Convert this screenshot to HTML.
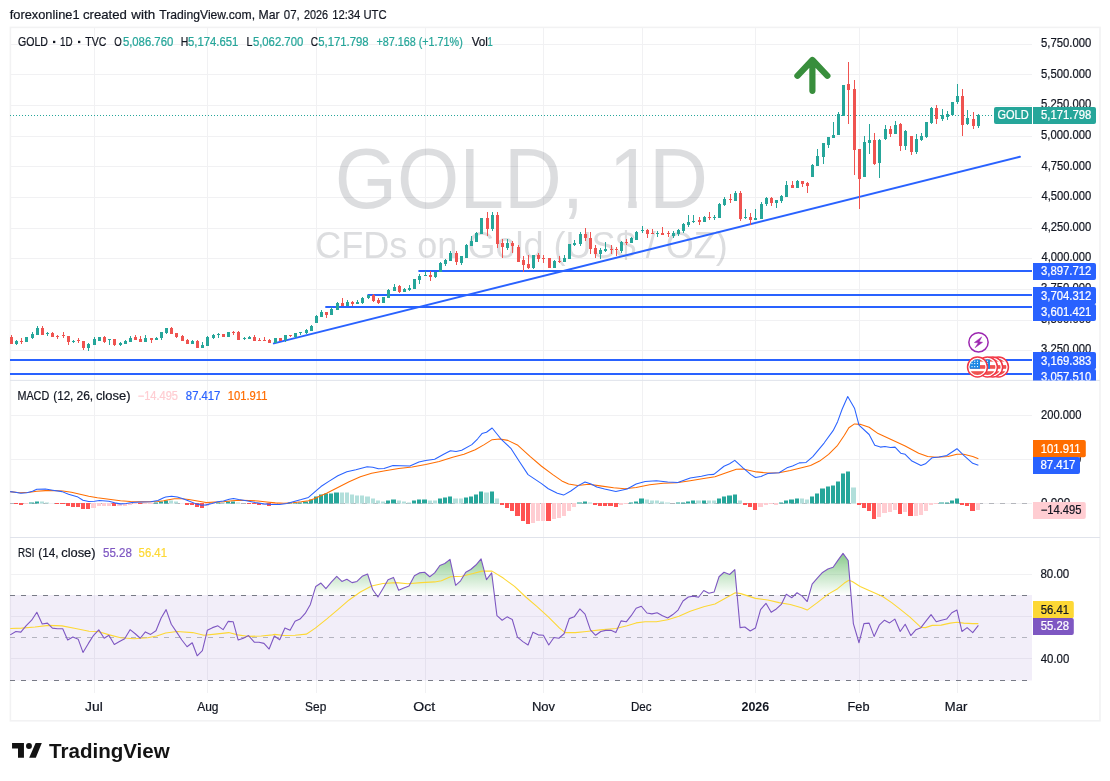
<!DOCTYPE html>
<html><head><meta charset="utf-8"><title>GOLD 1D</title>
<style>html,body{margin:0;padding:0;background:#fff}body{width:1110px;height:781px;overflow:hidden;font-family:"Liberation Sans",sans-serif}</style></head>
<body>
<svg width="1110" height="781" viewBox="0 0 1110 781" font-family='"Liberation Sans", sans-serif' style="display:block;will-change:transform">
<rect x="0" y="0" width="1110" height="781" fill="#ffffff" />
<filter id="idf" x="0" y="0" width="1110" height="781" filterUnits="userSpaceOnUse"><feOffset dx="0" dy="0"/></filter><g filter="url(#idf)">
<text x="9.75" y="19.2" font-size="13" fill="#131722" stroke="#131722" stroke-width="0.22" textLength="69.77" lengthAdjust="spacingAndGlyphs" >forexonline1</text>
<text x="82.91" y="19.2" font-size="13" fill="#131722" stroke="#131722" stroke-width="0.22" textLength="43.98" lengthAdjust="spacingAndGlyphs" >created</text>
<text x="131.36" y="19.2" font-size="13" fill="#131722" stroke="#131722" stroke-width="0.22" textLength="23.8" lengthAdjust="spacingAndGlyphs" >with</text>
<text x="159.31" y="19.2" font-size="13" fill="#131722" stroke="#131722" stroke-width="0.22" textLength="95.8" lengthAdjust="spacingAndGlyphs" >TradingView.com,</text>
<text x="258.48" y="19.2" font-size="13" fill="#131722" stroke="#131722" stroke-width="0.22" textLength="21.08" lengthAdjust="spacingAndGlyphs" >Mar</text>
<text x="283.82" y="19.2" font-size="13" fill="#131722" stroke="#131722" stroke-width="0.22" textLength="15.9" lengthAdjust="spacingAndGlyphs" >07,</text>
<text x="303.94" y="19.2" font-size="13" fill="#131722" stroke="#131722" stroke-width="0.22" textLength="24.17" lengthAdjust="spacingAndGlyphs" >2026</text>
<text x="332.13" y="19.2" font-size="13" fill="#131722" stroke="#131722" stroke-width="0.22" textLength="28.26" lengthAdjust="spacingAndGlyphs" >12:34</text>
<text x="363.43" y="19.2" font-size="13" fill="#131722" stroke="#131722" stroke-width="0.22" textLength="23.13" lengthAdjust="spacingAndGlyphs" >UTC</text>
<line x1="94.5" y1="27.5" x2="94.5" y2="693" stroke="#f1f1f3" stroke-width="1" />
<line x1="207.5" y1="27.5" x2="207.5" y2="693" stroke="#f1f1f3" stroke-width="1" />
<line x1="316.5" y1="27.5" x2="316.5" y2="693" stroke="#f1f1f3" stroke-width="1" />
<line x1="425.5" y1="27.5" x2="425.5" y2="693" stroke="#f1f1f3" stroke-width="1" />
<line x1="543.5" y1="27.5" x2="543.5" y2="693" stroke="#f1f1f3" stroke-width="1" />
<line x1="642.5" y1="27.5" x2="642.5" y2="693" stroke="#f1f1f3" stroke-width="1" />
<line x1="755.5" y1="27.5" x2="755.5" y2="693" stroke="#f1f1f3" stroke-width="1" />
<line x1="859.5" y1="27.5" x2="859.5" y2="693" stroke="#f1f1f3" stroke-width="1" />
<line x1="957.5" y1="27.5" x2="957.5" y2="693" stroke="#f1f1f3" stroke-width="1" />
<line x1="10" y1="44.5" x2="1032" y2="44.5" stroke="#f1f1f3" stroke-width="1" />
<line x1="10" y1="74.5" x2="1032" y2="74.5" stroke="#f1f1f3" stroke-width="1" />
<line x1="10" y1="105.5" x2="1032" y2="105.5" stroke="#f1f1f3" stroke-width="1" />
<line x1="10" y1="136.5" x2="1032" y2="136.5" stroke="#f1f1f3" stroke-width="1" />
<line x1="10" y1="166.5" x2="1032" y2="166.5" stroke="#f1f1f3" stroke-width="1" />
<line x1="10" y1="197.5" x2="1032" y2="197.5" stroke="#f1f1f3" stroke-width="1" />
<line x1="10" y1="228.5" x2="1032" y2="228.5" stroke="#f1f1f3" stroke-width="1" />
<line x1="10" y1="258.5" x2="1032" y2="258.5" stroke="#f1f1f3" stroke-width="1" />
<line x1="10" y1="289.5" x2="1032" y2="289.5" stroke="#f1f1f3" stroke-width="1" />
<line x1="10" y1="320.5" x2="1032" y2="320.5" stroke="#f1f1f3" stroke-width="1" />
<line x1="10" y1="350.5" x2="1032" y2="350.5" stroke="#f1f1f3" stroke-width="1" />
<line x1="10" y1="415.5" x2="1032" y2="415.5" stroke="#f1f1f3" stroke-width="1" />
<line x1="10" y1="459.5" x2="1032" y2="459.5" stroke="#f1f1f3" stroke-width="1" />
<line x1="10" y1="503.5" x2="1032" y2="503.5" stroke="#f1f1f3" stroke-width="1" />
<line x1="10" y1="574.5" x2="1032" y2="574.5" stroke="#f1f1f3" stroke-width="1" />
<line x1="10" y1="616.5" x2="1032" y2="616.5" stroke="#f1f1f3" stroke-width="1" />
<line x1="10" y1="658.5" x2="1032" y2="658.5" stroke="#f1f1f3" stroke-width="1" />
<rect x="10.4" y="27.4" width="1089.6" height="693.4" fill="none" stroke="#f2f2f3" stroke-width="1.6"/>
<g fill="#50535e" fill-opacity="0.2">
<text x="334.85" y="208" font-size="84.6" fill="#50535e" textLength="249.16" lengthAdjust="spacingAndGlyphs" fill-opacity="0.2">GOLD,</text>
<clipPath id="c1"><path d="M608 140 H636.7 V212 H628.2 V199 H608 Z"/></clipPath><g clip-path="url(#c1)">
<text x="608.8" y="208" font-size="84.6" fill="#50535e" textLength="44.5" lengthAdjust="spacingAndGlyphs" fill-opacity="0.2">1</text>
</g>
<text x="648.94" y="208" font-size="84.6" fill="#50535e" textLength="59.02" lengthAdjust="spacingAndGlyphs" fill-opacity="0.2">D</text>
<text x="315.14" y="257.7" font-size="37" fill="#50535e" textLength="412.68" lengthAdjust="spacingAndGlyphs" fill-opacity="0.2">CFDs on Gold (US$ / OZ)</text>
</g>
<defs><linearGradient id="rg" gradientUnits="userSpaceOnUse" x1="0" y1="531.7" x2="0" y2="595.3"><stop offset="0" stop-color="#4caf50" stop-opacity="1"/><stop offset="1" stop-color="#4caf50" stop-opacity="0"/></linearGradient>
<clipPath id="c70"><rect x="10" y="538" width="1022" height="57.299999999999955"/></clipPath></defs>
<rect x="10" y="595" width="1022" height="85.5" fill="#7e57c2" fill-opacity="0.1"/>
<polygon points="10.25,596 10.25,634.85 15.88,631.47 20.84,632.14 26.02,625.84 31.65,620.21 36.83,612.32 42.23,624.04 47.41,623.14 52.37,628.09 57.55,628.77 62.73,628.77 67.68,640.03 72.86,637.1 78.27,639.35 83,652.41 88.41,643.41 93.59,635.3 98.77,629.89 104.17,638.23 108.9,635.3 114.31,644.53 119.49,641.6 124.67,638.68 130.07,629.67 135.25,633.72 140.21,638.23 145.39,631.92 150.57,634.4 155.97,630.79 161.15,617.95 166.11,609.62 171.29,624.26 176.47,631.92 181.87,640.03 187.05,646.78 192.23,642.73 197.19,655.79 202.37,650.61 207.32,630.34 212.5,627.64 217.91,625.84 223.09,629.67 228.27,621.33 233.23,621.78 238.18,640.03 243.36,638.23 248.54,635.52 254.5,642.28 259.01,642.28 263.96,643.41 269.14,649.04 274.32,635.97 279.73,639.8 284.91,628.09 290.09,630.34 295.05,621.33 300,619.08 305.18,613.45 310.36,604.44 315.77,586.42 320.95,583.05 325.9,588.68 331.53,581.92 336.71,576.29 341.89,581.47 346.85,579.22 352.03,582.59 356.98,581.47 362.16,576.29 367.57,574.04 372.75,589.8 377.93,597.01 382.88,588.68 388.06,579.67 393.47,577.41 398.65,590.25 403.83,588 409.01,585.97 414.41,575.84 419.37,572.91 424.55,572.23 429.73,576.74 434.68,572.91 439.86,565.48 444.82,563.45 450,559.4 455.63,585.3 460.59,580.79 465.77,572.23 470.72,569.53 475.9,565.03 481.08,558.95 486.49,579.67 491.67,572.91 496.95,615.7 502.14,620.21 507.09,616.83 512.27,619.53 517.45,637.1 522.86,641.6 528.04,644.98 532.99,632.14 538.17,634.85 543.35,635.3 548.76,644.98 553.94,637.55 558.89,638.23 564.07,633.72 569.25,618.63 574.21,616.83 579.84,608.95 585.02,614.13 590.42,629.89 595.6,635.3 600.78,631.47 605.74,630.34 610.92,630.34 615.87,632.59 621.05,620.88 626.23,621.78 631.19,615.7 636.14,608.27 641.32,606.24 646.95,613 651.91,613.9 657.09,612.77 662.5,615.7 667.68,617.95 672.86,614.58 678.04,610.07 682.99,601.06 688.4,597.01 693.58,596.11 698.53,597.23 703.71,590.48 708.89,593.18 714.07,592.05 719.03,576.74 723.98,572.23 729.61,574.49 734.79,569.53 740.08,627.64 744.81,626.96 750.22,631.02 755.4,628.09 760.58,609.62 765.98,603.32 771.16,612.32 776.34,608.95 781.3,604.44 786.25,594.31 791.88,597.68 797.06,592.73 802.24,596.11 807.2,601.51 812.15,584.17 817.33,578.09 822.51,572.46 827.92,569.08 833.1,567.28 838.05,560.07 843.01,553.32 848.19,560.52 853.37,623.59 859,642.73 863.95,623.59 869.14,623.14 874.09,636.42 879.27,625.16 884.45,620.21 889.63,622.91 894.81,619.08 900.22,631.47 905.17,624.26 910.8,635.52 915.98,629.67 920.94,627.64 926.12,620.88 931.07,614.58 936.25,621.78 941.43,620.21 946.61,619.08 951.79,612.77 956.97,610.07 961.93,631.47 967.11,627.64 972.74,632.59 978.37,625.39 978.37,596" fill="url(#rg)" clip-path="url(#c70)"/>
<line x1="10" y1="595.5" x2="1032" y2="595.5" stroke="#787b86" stroke-width="1" stroke-dasharray="5 6"/>
<line x1="10" y1="637.5" x2="1032" y2="637.5" stroke="#787b86" stroke-width="1" stroke-dasharray="5 6" stroke-opacity="0.5"/>
<line x1="10" y1="680.5" x2="1032" y2="680.5" stroke="#787b86" stroke-width="1" stroke-dasharray="5 6"/>
<polyline points="10.25,628.54 21.51,628.09 35.03,626.96 48.54,625.39 62.05,625.84 75.57,628.54 89.08,631.24 98.09,631.47 109.35,634.85 120.61,637.77 134.13,638.68 147.64,637.77 156.65,635.97 165.66,633.05 176.92,631.47 192.68,632.59 203.95,635.3 215.21,634.17 228.72,632.59 237.73,634.85 248.99,636.42 261.26,635.97 272.52,634.85 274.77,634.4 283.78,635.52 295.05,635.3 306.31,634.17 315.32,628.09 326.58,619.08 337.84,609.62 349.1,599.94 360.36,592.05 371.62,585.97 382.88,583.5 396.4,582.59 407.66,583.72 421.17,582.59 434.68,581.92 441.44,580.79 450.45,576.74 461.71,576.29 472.97,573.59 481.98,571.11 490.99,571.11 492,571.11 503.26,578.09 514.52,586.42 525.78,597.01 537.05,606.69 548.31,616.83 559.57,628.09 565.2,632.59 575.33,632.59 586.59,631.47 600.11,629.89 615.87,628.54 627.14,625.84 636.14,622.91 645.15,621.78 656.41,621.78 667.68,619.76 678.94,616.15 690.2,611.2 703.71,606.69 714.97,603.99 726.23,597.68 735.24,592.73 740.76,593.63 755.4,598.36 767.78,599.94 779.05,602.64 790.31,604.44 801.57,607.82 807.2,610.07 817.33,602.64 828.59,593.86 837.6,588.68 844.36,583.05 848.86,580.34 852.24,581.47 860.13,586.42 871.39,591.38 882.65,596.56 891.66,602.64 900.67,609.62 909.68,616.83 916.43,623.14 920.94,627.41 925.44,627.64 932.2,625.39 941.21,625.16 950.22,623.14 956.97,622.23 963.73,623.14 972.74,623.59 978.37,623.59" fill="none" stroke="#fdd835" stroke-width="1.1" stroke-linejoin="round" />
<polyline points="10.25,634.85 15.88,631.47 20.84,632.14 26.02,625.84 31.65,620.21 36.83,612.32 42.23,624.04 47.41,623.14 52.37,628.09 57.55,628.77 62.73,628.77 67.68,640.03 72.86,637.1 78.27,639.35 83,652.41 88.41,643.41 93.59,635.3 98.77,629.89 104.17,638.23 108.9,635.3 114.31,644.53 119.49,641.6 124.67,638.68 130.07,629.67 135.25,633.72 140.21,638.23 145.39,631.92 150.57,634.4 155.97,630.79 161.15,617.95 166.11,609.62 171.29,624.26 176.47,631.92 181.87,640.03 187.05,646.78 192.23,642.73 197.19,655.79 202.37,650.61 207.32,630.34 212.5,627.64 217.91,625.84 223.09,629.67 228.27,621.33 233.23,621.78 238.18,640.03 243.36,638.23 248.54,635.52 254.5,642.28 259.01,642.28 263.96,643.41 269.14,649.04 274.32,635.97 279.73,639.8 284.91,628.09 290.09,630.34 295.05,621.33 300,619.08 305.18,613.45 310.36,604.44 315.77,586.42 320.95,583.05 325.9,588.68 331.53,581.92 336.71,576.29 341.89,581.47 346.85,579.22 352.03,582.59 356.98,581.47 362.16,576.29 367.57,574.04 372.75,589.8 377.93,597.01 382.88,588.68 388.06,579.67 393.47,577.41 398.65,590.25 403.83,588 409.01,585.97 414.41,575.84 419.37,572.91 424.55,572.23 429.73,576.74 434.68,572.91 439.86,565.48 444.82,563.45 450,559.4 455.63,585.3 460.59,580.79 465.77,572.23 470.72,569.53 475.9,565.03 481.08,558.95 486.49,579.67 491.67,572.91 496.95,615.7 502.14,620.21 507.09,616.83 512.27,619.53 517.45,637.1 522.86,641.6 528.04,644.98 532.99,632.14 538.17,634.85 543.35,635.3 548.76,644.98 553.94,637.55 558.89,638.23 564.07,633.72 569.25,618.63 574.21,616.83 579.84,608.95 585.02,614.13 590.42,629.89 595.6,635.3 600.78,631.47 605.74,630.34 610.92,630.34 615.87,632.59 621.05,620.88 626.23,621.78 631.19,615.7 636.14,608.27 641.32,606.24 646.95,613 651.91,613.9 657.09,612.77 662.5,615.7 667.68,617.95 672.86,614.58 678.04,610.07 682.99,601.06 688.4,597.01 693.58,596.11 698.53,597.23 703.71,590.48 708.89,593.18 714.07,592.05 719.03,576.74 723.98,572.23 729.61,574.49 734.79,569.53 740.08,627.64 744.81,626.96 750.22,631.02 755.4,628.09 760.58,609.62 765.98,603.32 771.16,612.32 776.34,608.95 781.3,604.44 786.25,594.31 791.88,597.68 797.06,592.73 802.24,596.11 807.2,601.51 812.15,584.17 817.33,578.09 822.51,572.46 827.92,569.08 833.1,567.28 838.05,560.07 843.01,553.32 848.19,560.52 853.37,623.59 859,642.73 863.95,623.59 869.14,623.14 874.09,636.42 879.27,625.16 884.45,620.21 889.63,622.91 894.81,619.08 900.22,631.47 905.17,624.26 910.8,635.52 915.98,629.67 920.94,627.64 926.12,620.88 931.07,614.58 936.25,621.78 941.43,620.21 946.61,619.08 951.79,612.77 956.97,610.07 961.93,631.47 967.11,627.64 972.74,632.59 978.37,625.39" fill="none" stroke="#7e57c2" stroke-width="1.1" stroke-linejoin="round" />
<line x1="10" y1="503.5" x2="1032" y2="503.5" stroke="#787b86" stroke-width="1" stroke-dasharray="5 6" stroke-opacity="0.5"/>
<rect x="14" y="503" width="4" height="1" fill="#ff5252" />
<rect x="19" y="503" width="4" height="2" fill="#ff5252" />
<rect x="24" y="503" width="4" height="1" fill="#ffcdd2" />
<rect x="29" y="502.5" width="5" height="1" fill="#26a69a" />
<rect x="35" y="501.5" width="4" height="2" fill="#26a69a" />
<rect x="40" y="501.5" width="4" height="2" fill="#b2dfdb" />
<rect x="45" y="502.5" width="4" height="1" fill="#b2dfdb" />
<rect x="55" y="503" width="4" height="1" fill="#ff5252" />
<rect x="60" y="503" width="5" height="1" fill="#ff5252" />
<rect x="66" y="503" width="4" height="3" fill="#ff5252" />
<rect x="71" y="503" width="4" height="4" fill="#ff5252" />
<rect x="76" y="503" width="4" height="4" fill="#ff5252" />
<rect x="81" y="503" width="4" height="6" fill="#ff5252" />
<rect x="86" y="503" width="4" height="6" fill="#ff5252" />
<rect x="91" y="503" width="5" height="5" fill="#ffcdd2" />
<rect x="97" y="503" width="4" height="3" fill="#ffcdd2" />
<rect x="102" y="503" width="4" height="3" fill="#ffcdd2" />
<rect x="107" y="503" width="4" height="3" fill="#ffcdd2" />
<rect x="112" y="503" width="4" height="3" fill="#ff5252" />
<rect x="117" y="503" width="5" height="3" fill="#ffcdd2" />
<rect x="123" y="503" width="4" height="3" fill="#ffcdd2" />
<rect x="128" y="503" width="4" height="2" fill="#ffcdd2" />
<rect x="133" y="503" width="4" height="1" fill="#ffcdd2" />
<rect x="138" y="503" width="4" height="1" fill="#ff5252" />
<rect x="143" y="503" width="4" height="1" fill="#ffcdd2" />
<rect x="148" y="503" width="5" height="1" fill="#ffcdd2" />
<rect x="154" y="502.5" width="4" height="1" fill="#26a69a" />
<rect x="159" y="501.5" width="4" height="2" fill="#26a69a" />
<rect x="164" y="500.5" width="4" height="3" fill="#26a69a" />
<rect x="169" y="500.5" width="4" height="3" fill="#b2dfdb" />
<rect x="174" y="501.5" width="4" height="2" fill="#b2dfdb" />
<rect x="185" y="503" width="4" height="2" fill="#ff5252" />
<rect x="190" y="503" width="4" height="2" fill="#ff5252" />
<rect x="195" y="503" width="4" height="4" fill="#ff5252" />
<rect x="200" y="503" width="4" height="5" fill="#ff5252" />
<rect x="205" y="503" width="4" height="3" fill="#ffcdd2" />
<rect x="210" y="503" width="5" height="1" fill="#ffcdd2" />
<rect x="216" y="502.5" width="4" height="1" fill="#26a69a" />
<rect x="221" y="502.5" width="4" height="1" fill="#b2dfdb" />
<rect x="226" y="501.5" width="4" height="2" fill="#26a69a" />
<rect x="231" y="501.5" width="4" height="2" fill="#26a69a" />
<rect x="236" y="502.5" width="4" height="1" fill="#b2dfdb" />
<rect x="247" y="503" width="4" height="1" fill="#ff5252" />
<rect x="252" y="503" width="4" height="1" fill="#ff5252" />
<rect x="257" y="503" width="4" height="2" fill="#ff5252" />
<rect x="262" y="503" width="4" height="2" fill="#ffcdd2" />
<rect x="267" y="503" width="4" height="3" fill="#ff5252" />
<rect x="272" y="503" width="5" height="1" fill="#ffcdd2" />
<rect x="278" y="503" width="4" height="1" fill="#ffcdd2" />
<rect x="283" y="503" width="4" height="1" fill="#ffcdd2" />
<rect x="288" y="502.5" width="4" height="1" fill="#26a69a" />
<rect x="293" y="502.5" width="4" height="1" fill="#26a69a" />
<rect x="298" y="502.5" width="4" height="1" fill="#26a69a" />
<rect x="303" y="501.5" width="5" height="2" fill="#26a69a" />
<rect x="309" y="499.5" width="4" height="4" fill="#26a69a" />
<rect x="314" y="496.5" width="4" height="7" fill="#26a69a" />
<rect x="319" y="494.5" width="4" height="9" fill="#26a69a" />
<rect x="324" y="493.5" width="4" height="10" fill="#26a69a" />
<rect x="329" y="493.5" width="4" height="10" fill="#26a69a" />
<rect x="334" y="492.5" width="5" height="11" fill="#26a69a" />
<rect x="340" y="492.5" width="4" height="11" fill="#b2dfdb" />
<rect x="345" y="492.5" width="4" height="11" fill="#b2dfdb" />
<rect x="350" y="494.5" width="4" height="9" fill="#b2dfdb" />
<rect x="355" y="495.5" width="4" height="8" fill="#b2dfdb" />
<rect x="360" y="495.5" width="4" height="8" fill="#b2dfdb" />
<rect x="365" y="496.5" width="5" height="7" fill="#b2dfdb" />
<rect x="371" y="498.5" width="4" height="5" fill="#b2dfdb" />
<rect x="376" y="500.5" width="4" height="3" fill="#b2dfdb" />
<rect x="381" y="501.5" width="4" height="2" fill="#b2dfdb" />
<rect x="386" y="500.5" width="4" height="3" fill="#26a69a" />
<rect x="391" y="499.5" width="5" height="4" fill="#26a69a" />
<rect x="397" y="500.5" width="4" height="3" fill="#b2dfdb" />
<rect x="402" y="501.5" width="4" height="2" fill="#b2dfdb" />
<rect x="407" y="502.5" width="4" height="1" fill="#b2dfdb" />
<rect x="412" y="500.5" width="4" height="3" fill="#26a69a" />
<rect x="417" y="499.5" width="4" height="4" fill="#26a69a" />
<rect x="422" y="499.5" width="5" height="4" fill="#26a69a" />
<rect x="428" y="500.5" width="4" height="3" fill="#b2dfdb" />
<rect x="433" y="500.5" width="4" height="3" fill="#b2dfdb" />
<rect x="438" y="498.5" width="4" height="5" fill="#26a69a" />
<rect x="443" y="497.5" width="4" height="6" fill="#26a69a" />
<rect x="448" y="496.5" width="4" height="7" fill="#26a69a" />
<rect x="453" y="498.5" width="5" height="5" fill="#b2dfdb" />
<rect x="459" y="498.5" width="4" height="5" fill="#b2dfdb" />
<rect x="464" y="497.5" width="4" height="6" fill="#26a69a" />
<rect x="469" y="496.5" width="4" height="7" fill="#26a69a" />
<rect x="474" y="494.5" width="4" height="9" fill="#26a69a" />
<rect x="479" y="491.5" width="4" height="12" fill="#26a69a" />
<rect x="484" y="492.5" width="5" height="11" fill="#b2dfdb" />
<rect x="490" y="491.5" width="4" height="12" fill="#26a69a" />
<rect x="495" y="498.5" width="4" height="5" fill="#b2dfdb" />
<rect x="500" y="503" width="4" height="2" fill="#ff5252" />
<rect x="505" y="503" width="4" height="5" fill="#ff5252" />
<rect x="510" y="503" width="4" height="8" fill="#ff5252" />
<rect x="515" y="503" width="5" height="13" fill="#ff5252" />
<rect x="521" y="503" width="4" height="18" fill="#ff5252" />
<rect x="526" y="503" width="4" height="21" fill="#ff5252" />
<rect x="531" y="503" width="4" height="20" fill="#ffcdd2" />
<rect x="536" y="503" width="4" height="18" fill="#ffcdd2" />
<rect x="541" y="503" width="4" height="18" fill="#ffcdd2" />
<rect x="546" y="503" width="5" height="18" fill="#ff5252" />
<rect x="552" y="503" width="4" height="16" fill="#ffcdd2" />
<rect x="557" y="503" width="4" height="15" fill="#ffcdd2" />
<rect x="562" y="503" width="4" height="13" fill="#ffcdd2" />
<rect x="567" y="503" width="4" height="8" fill="#ffcdd2" />
<rect x="572" y="503" width="4" height="4" fill="#ffcdd2" />
<rect x="577" y="502.5" width="5" height="1" fill="#26a69a" />
<rect x="583" y="501.5" width="4" height="2" fill="#26a69a" />
<rect x="588" y="502.5" width="4" height="1" fill="#b2dfdb" />
<rect x="593" y="503" width="4" height="2" fill="#ff5252" />
<rect x="598" y="503" width="4" height="3" fill="#ff5252" />
<rect x="603" y="503" width="4" height="3" fill="#ff5252" />
<rect x="608" y="503" width="5" height="3" fill="#ff5252" />
<rect x="614" y="503" width="4" height="4" fill="#ff5252" />
<rect x="619" y="503" width="4" height="2" fill="#ffcdd2" />
<rect x="624" y="503" width="4" height="1" fill="#ffcdd2" />
<rect x="629" y="502.5" width="4" height="1" fill="#26a69a" />
<rect x="634" y="501.5" width="4" height="2" fill="#26a69a" />
<rect x="639" y="498.5" width="5" height="5" fill="#26a69a" />
<rect x="645" y="499.5" width="4" height="4" fill="#b2dfdb" />
<rect x="650" y="500.5" width="4" height="3" fill="#b2dfdb" />
<rect x="655" y="500.5" width="4" height="3" fill="#b2dfdb" />
<rect x="660" y="501.5" width="4" height="2" fill="#b2dfdb" />
<rect x="665" y="502.5" width="5" height="1" fill="#b2dfdb" />
<rect x="676" y="502.5" width="4" height="1" fill="#26a69a" />
<rect x="681" y="502.5" width="4" height="1" fill="#26a69a" />
<rect x="686" y="501.5" width="4" height="2" fill="#26a69a" />
<rect x="691" y="500.5" width="4" height="3" fill="#26a69a" />
<rect x="696" y="500.5" width="5" height="3" fill="#b2dfdb" />
<rect x="702" y="500.5" width="4" height="3" fill="#26a69a" />
<rect x="707" y="500.5" width="4" height="3" fill="#b2dfdb" />
<rect x="712" y="500.5" width="4" height="3" fill="#b2dfdb" />
<rect x="717" y="498.5" width="4" height="5" fill="#26a69a" />
<rect x="722" y="496.5" width="4" height="7" fill="#26a69a" />
<rect x="727" y="495.5" width="5" height="8" fill="#26a69a" />
<rect x="733" y="494.5" width="4" height="9" fill="#26a69a" />
<rect x="738" y="500.5" width="4" height="3" fill="#b2dfdb" />
<rect x="743" y="503" width="4" height="2" fill="#ff5252" />
<rect x="748" y="503" width="4" height="4" fill="#ff5252" />
<rect x="753" y="503" width="4" height="7" fill="#ff5252" />
<rect x="758" y="503" width="5" height="4" fill="#ffcdd2" />
<rect x="764" y="503" width="4" height="2" fill="#ffcdd2" />
<rect x="769" y="503" width="4" height="1" fill="#ffcdd2" />
<rect x="774" y="503" width="4" height="2" fill="#ffcdd2" />
<rect x="779" y="502.5" width="4" height="1" fill="#26a69a" />
<rect x="784" y="500.5" width="4" height="3" fill="#26a69a" />
<rect x="789" y="499.5" width="5" height="4" fill="#26a69a" />
<rect x="795" y="498.5" width="4" height="5" fill="#26a69a" />
<rect x="800" y="498.5" width="4" height="5" fill="#b2dfdb" />
<rect x="805" y="499.5" width="4" height="4" fill="#b2dfdb" />
<rect x="810" y="496.5" width="4" height="7" fill="#26a69a" />
<rect x="815" y="493.5" width="4" height="10" fill="#26a69a" />
<rect x="820" y="488.5" width="5" height="15" fill="#26a69a" />
<rect x="826" y="486.5" width="4" height="17" fill="#26a69a" />
<rect x="831" y="485.5" width="4" height="18" fill="#26a69a" />
<rect x="836" y="481.5" width="4" height="22" fill="#26a69a" />
<rect x="841" y="473.5" width="4" height="30" fill="#26a69a" />
<rect x="846" y="471.5" width="4" height="32" fill="#26a69a" />
<rect x="851" y="487.5" width="5" height="16" fill="#b2dfdb" />
<rect x="857" y="503" width="4" height="2" fill="#ff5252" />
<rect x="862" y="503" width="4" height="5" fill="#ff5252" />
<rect x="867" y="503" width="4" height="8" fill="#ff5252" />
<rect x="872" y="503" width="4" height="16" fill="#ff5252" />
<rect x="877" y="503" width="4" height="14" fill="#ffcdd2" />
<rect x="882" y="503" width="5" height="10" fill="#ffcdd2" />
<rect x="888" y="503" width="4" height="9" fill="#ffcdd2" />
<rect x="893" y="503" width="4" height="7" fill="#ffcdd2" />
<rect x="898" y="503" width="4" height="11" fill="#ff5252" />
<rect x="903" y="503" width="4" height="9" fill="#ffcdd2" />
<rect x="908" y="503" width="5" height="13" fill="#ff5252" />
<rect x="914" y="503" width="4" height="13" fill="#ffcdd2" />
<rect x="919" y="503" width="4" height="12" fill="#ffcdd2" />
<rect x="924" y="503" width="4" height="8" fill="#ffcdd2" />
<rect x="929" y="503" width="4" height="2" fill="#ffcdd2" />
<rect x="934" y="503" width="4" height="1" fill="#ffcdd2" />
<rect x="939" y="502.5" width="5" height="1" fill="#26a69a" />
<rect x="945" y="502.5" width="4" height="1" fill="#26a69a" />
<rect x="950" y="500.5" width="4" height="3" fill="#26a69a" />
<rect x="955" y="498.5" width="4" height="5" fill="#26a69a" />
<rect x="960" y="503" width="4" height="2" fill="#ff5252" />
<rect x="965" y="503" width="4" height="3" fill="#ff5252" />
<rect x="970" y="503" width="5" height="8" fill="#ff5252" />
<rect x="976" y="503" width="4" height="7" fill="#ffcdd2" />
<polyline points="10.16,491.62 19.53,492.77 29.62,492.34 36.83,491.33 45.48,490.61 54.13,490.47 62.77,490.9 71.42,492.34 80.07,494.22 88.72,496.23 97.37,497.68 108.9,499.26 120.43,500.7 130.52,501.57 140.61,501.86 149.26,501.71 157.91,501.42 163.68,500.85 167.21,499.98 174.41,498.83 181.62,498.83 188.83,499.55 197.48,500.99 206.13,502.43 214.77,502.14 223.42,501.71 232.07,500.7 240.72,500.27 249.37,500.56 258.02,500.99 266.67,502 275.32,502.86 283.96,503.15 292.61,502.72 301.26,501.71 308.47,500.7 314.23,498.83 318.56,496.67 326.58,493.29 337.84,487.43 349.1,481.8 360.36,476.85 371.62,473.24 385.14,470.77 398.65,468.51 412.16,466.94 425.68,464.46 439.19,461.53 452.7,457.25 463.96,454.32 475.23,449.82 484.23,444.64 492.12,439.68 499.88,439.01 507.77,440.36 517.9,445.32 530.29,456.58 541.55,466.26 552.81,474.59 561.82,480.9 568.58,484.05 577.59,485.41 588.85,484.28 600.11,485.86 613.62,487.66 624.88,488.78 636.14,487.43 649.66,484.73 663.17,483.15 676.68,482.7 690.2,480.68 703.71,478.42 714.97,476.85 726.23,472.79 736.37,469.19 743.01,468.96 756.52,471.89 767.78,473.02 779.05,472.79 790.31,470.54 801.57,467.84 810.58,465.59 819.59,461.08 828.59,454.32 837.6,445.32 844.36,435.18 848.86,427.75 854.5,423.92 860.13,424.37 869.14,427.3 878.14,433.6 891.66,439.68 905.17,445.99 918.68,453.2 927.69,456.58 936.7,457.25 947.96,456.58 956.97,454.32 963.73,454.32 972.74,456.58 978.37,458.83" fill="none" stroke="#ff6d00" stroke-width="1.05" stroke-linejoin="round" />
<polyline points="10.16,491.62 15.21,492.34 20.97,493.35 26.74,492.77 32.5,491.33 36.83,489.17 45.48,489.03 52.68,490.18 62.05,491.62 68.54,494.22 77.19,496.67 82.95,500.27 88.72,501.42 94.49,501.28 99.53,500.56 108.9,501.28 114.67,502.86 120.43,503.87 126.2,503.59 131.96,502.43 140.61,502 150.7,501.71 157.91,500.56 163.68,497.68 165.77,497.1 171.53,496.23 177.3,497.1 183.06,498.83 188.83,500.99 196.04,503.87 201.8,505.32 206.13,504.88 211.89,503.44 217.66,501.71 223.42,500.99 229.19,499.26 233.51,498.54 238.56,499.55 246.49,500.7 255.14,502.43 263.78,503.87 272.43,504.59 279.64,504.59 286.85,503.44 294.05,501.42 301.26,499.55 308.47,497.39 314.23,492.34 320.95,486.53 328.83,481.35 337.84,475.72 346.85,471.67 355.86,469.64 367.12,466.71 372.75,467.16 378.38,468.74 384.01,468.51 393.02,465.59 400.9,465.81 409.91,466.04 418.92,461.98 425.68,460.41 434.68,459.28 443.69,454.32 450.45,450.72 456.08,451.4 461.71,450.27 471.85,444.64 477.48,439.01 481.98,433.6 486.49,432.25 492.12,427.97 501.01,439.01 511.14,448.69 519.03,461.08 528.04,474.59 541.55,483.6 548.31,488.78 557.32,493.29 563.62,495.09 570.83,491.04 578.71,485.41 585.02,482.03 591.1,484.05 596.73,486.98 604.61,489.01 615.87,491.49 627.14,489.01 636.14,484.05 645.15,481.58 656.41,480.68 667.68,482.03 677.81,482.48 690.2,477.97 701.46,476.17 708.22,474.82 713.85,474.37 723.98,466.26 729.61,463.78 734.79,460.41 743.01,467.84 750.89,474.59 755.4,477.52 761.03,476.4 767.78,473.47 779.05,472.79 786.93,467.84 792.56,466.04 799.32,462.88 806.07,462.43 812.83,456.58 824.09,443.06 833.1,430.68 837.6,421.67 842.11,409.28 847.74,396.44 854.5,408.15 859,425.05 869.14,434.5 874.77,445.32 880.4,447.12 884.9,446.44 890.53,447.57 895.04,447.12 900.67,453.2 905.17,454.32 911.93,461.08 920.94,465.59 925.44,463.78 932.2,457.7 938.95,457.03 946.84,455.45 956.97,448.69 963.73,455.45 972.74,463.33 978.37,465.14" fill="none" stroke="#2962ff" stroke-width="1.05" stroke-linejoin="round" />
<line x1="10" y1="115.5" x2="994" y2="115.5" stroke="#26a69a" stroke-width="1" stroke-dasharray="1 2"/>
<line x1="418.4" y1="271" x2="1032" y2="271" stroke="#2962ff" stroke-width="2" />
<line x1="367.5" y1="295" x2="1032" y2="295" stroke="#2962ff" stroke-width="2" />
<line x1="325.3" y1="307" x2="1032" y2="307" stroke="#2962ff" stroke-width="2" />
<line x1="10" y1="360" x2="1032" y2="360" stroke="#2962ff" stroke-width="2" />
<line x1="10" y1="374" x2="1032" y2="374" stroke="#2962ff" stroke-width="2" />
<line x1="273.9" y1="343.4" x2="1019.9" y2="156.8" stroke="#2962ff" stroke-width="2" stroke-linecap="round"/>
<rect x="11" y="335" width="1" height="9" fill="#ef5350" />
<rect x="10" y="337" width="3" height="7" fill="#ef5350" />
<rect x="16" y="340" width="1" height="5" fill="#26a69a" />
<rect x="15" y="341" width="3" height="3" fill="#26a69a" />
<rect x="21" y="338" width="1" height="6" fill="#ef5350" />
<rect x="20" y="341" width="3" height="1" fill="#ef5350" />
<rect x="26" y="337" width="1" height="5" fill="#26a69a" />
<rect x="25" y="337" width="3" height="5" fill="#26a69a" />
<rect x="32" y="332" width="1" height="7" fill="#26a69a" />
<rect x="31" y="334" width="3" height="4" fill="#26a69a" />
<rect x="37" y="326" width="1" height="9" fill="#26a69a" />
<rect x="36" y="328" width="3" height="7" fill="#26a69a" />
<rect x="42" y="326" width="1" height="9" fill="#ef5350" />
<rect x="41" y="328" width="3" height="7" fill="#ef5350" />
<rect x="47" y="332" width="1" height="4" fill="#26a69a" />
<rect x="46" y="333" width="3" height="1" fill="#26a69a" />
<rect x="52" y="332" width="1" height="5" fill="#ef5350" />
<rect x="51" y="333" width="3" height="4" fill="#ef5350" />
<rect x="57" y="335" width="1" height="4" fill="#ef5350" />
<rect x="56" y="336" width="3" height="1" fill="#ef5350" />
<rect x="63" y="332" width="1" height="6" fill="#ef5350" />
<rect x="62" y="335" width="3" height="1" fill="#ef5350" />
<rect x="68" y="336" width="1" height="9" fill="#ef5350" />
<rect x="67" y="336" width="3" height="6" fill="#ef5350" />
<rect x="73" y="340" width="1" height="3" fill="#26a69a" />
<rect x="72" y="341" width="3" height="1" fill="#26a69a" />
<rect x="78" y="338" width="1" height="5" fill="#ef5350" />
<rect x="77" y="340" width="3" height="1" fill="#ef5350" />
<rect x="83" y="341" width="1" height="9" fill="#ef5350" />
<rect x="82" y="341" width="3" height="7" fill="#ef5350" />
<rect x="88" y="343" width="1" height="8" fill="#26a69a" />
<rect x="87" y="344" width="3" height="4" fill="#26a69a" />
<rect x="94" y="337" width="1" height="8" fill="#26a69a" />
<rect x="93" y="339" width="3" height="6" fill="#26a69a" />
<rect x="99" y="337" width="1" height="4" fill="#26a69a" />
<rect x="98" y="337" width="3" height="4" fill="#26a69a" />
<rect x="104" y="336" width="1" height="7" fill="#ef5350" />
<rect x="103" y="337" width="3" height="5" fill="#ef5350" />
<rect x="109" y="339" width="1" height="6" fill="#26a69a" />
<rect x="108" y="339" width="3" height="1" fill="#26a69a" />
<rect x="114" y="339" width="1" height="7" fill="#ef5350" />
<rect x="113" y="339" width="3" height="6" fill="#ef5350" />
<rect x="120" y="342" width="1" height="4" fill="#26a69a" />
<rect x="119" y="343" width="3" height="2" fill="#26a69a" />
<rect x="125" y="340" width="1" height="4" fill="#26a69a" />
<rect x="124" y="341" width="3" height="3" fill="#26a69a" />
<rect x="130" y="336" width="1" height="6" fill="#26a69a" />
<rect x="129" y="338" width="3" height="4" fill="#26a69a" />
<rect x="135" y="335" width="1" height="5" fill="#ef5350" />
<rect x="134" y="337" width="3" height="3" fill="#ef5350" />
<rect x="140" y="336" width="1" height="6" fill="#ef5350" />
<rect x="139" y="339" width="3" height="3" fill="#ef5350" />
<rect x="145" y="335" width="1" height="7" fill="#26a69a" />
<rect x="144" y="338" width="3" height="4" fill="#26a69a" />
<rect x="151" y="338" width="1" height="5" fill="#ef5350" />
<rect x="150" y="338" width="3" height="2" fill="#ef5350" />
<rect x="156" y="337" width="1" height="3" fill="#26a69a" />
<rect x="155" y="338" width="3" height="2" fill="#26a69a" />
<rect x="161" y="332" width="1" height="8" fill="#26a69a" />
<rect x="160" y="332" width="3" height="6" fill="#26a69a" />
<rect x="166" y="328" width="1" height="6" fill="#26a69a" />
<rect x="165" y="328" width="3" height="5" fill="#26a69a" />
<rect x="171" y="327" width="1" height="7" fill="#ef5350" />
<rect x="170" y="328" width="3" height="6" fill="#ef5350" />
<rect x="176" y="333" width="1" height="5" fill="#ef5350" />
<rect x="175" y="333" width="3" height="4" fill="#ef5350" />
<rect x="182" y="335" width="1" height="6" fill="#ef5350" />
<rect x="181" y="336" width="3" height="5" fill="#ef5350" />
<rect x="187" y="339" width="1" height="5" fill="#ef5350" />
<rect x="186" y="340" width="3" height="4" fill="#ef5350" />
<rect x="192" y="340" width="1" height="4" fill="#26a69a" />
<rect x="191" y="341" width="3" height="3" fill="#26a69a" />
<rect x="197" y="340" width="1" height="8" fill="#ef5350" />
<rect x="196" y="341" width="3" height="7" fill="#ef5350" />
<rect x="202" y="342" width="1" height="6" fill="#26a69a" />
<rect x="201" y="345" width="3" height="3" fill="#26a69a" />
<rect x="207" y="336" width="1" height="10" fill="#26a69a" />
<rect x="206" y="337" width="3" height="9" fill="#26a69a" />
<rect x="213" y="334" width="1" height="5" fill="#26a69a" />
<rect x="212" y="335" width="3" height="3" fill="#26a69a" />
<rect x="218" y="333" width="1" height="5" fill="#26a69a" />
<rect x="217" y="334" width="3" height="1" fill="#26a69a" />
<rect x="223" y="334" width="1" height="3" fill="#ef5350" />
<rect x="222" y="334" width="3" height="3" fill="#ef5350" />
<rect x="228" y="332" width="1" height="5" fill="#26a69a" />
<rect x="227" y="332" width="3" height="5" fill="#26a69a" />
<rect x="233" y="331" width="1" height="4" fill="#ef5350" />
<rect x="232" y="332" width="3" height="1" fill="#ef5350" />
<rect x="238" y="331" width="1" height="9" fill="#ef5350" />
<rect x="237" y="332" width="3" height="8" fill="#ef5350" />
<rect x="244" y="337" width="1" height="3" fill="#26a69a" />
<rect x="243" y="338" width="3" height="1" fill="#26a69a" />
<rect x="249" y="336" width="1" height="3" fill="#26a69a" />
<rect x="248" y="337" width="3" height="2" fill="#26a69a" />
<rect x="254" y="335" width="1" height="6" fill="#ef5350" />
<rect x="253" y="337" width="3" height="4" fill="#ef5350" />
<rect x="259" y="338" width="1" height="3" fill="#ef5350" />
<rect x="258" y="340" width="3" height="1" fill="#ef5350" />
<rect x="264" y="337" width="1" height="4" fill="#ef5350" />
<rect x="263" y="340" width="3" height="1" fill="#ef5350" />
<rect x="269" y="339" width="1" height="4" fill="#ef5350" />
<rect x="268" y="340" width="3" height="3" fill="#ef5350" />
<rect x="275" y="338" width="1" height="5" fill="#26a69a" />
<rect x="274" y="338" width="3" height="5" fill="#26a69a" />
<rect x="280" y="338" width="1" height="3" fill="#ef5350" />
<rect x="279" y="338" width="3" height="3" fill="#ef5350" />
<rect x="285" y="335" width="1" height="7" fill="#26a69a" />
<rect x="284" y="335" width="3" height="5" fill="#26a69a" />
<rect x="290" y="335" width="1" height="2" fill="#ef5350" />
<rect x="289" y="335" width="3" height="1" fill="#ef5350" />
<rect x="295" y="333" width="1" height="5" fill="#26a69a" />
<rect x="294" y="333" width="3" height="4" fill="#26a69a" />
<rect x="300" y="332" width="1" height="3" fill="#26a69a" />
<rect x="299" y="332" width="3" height="1" fill="#26a69a" />
<rect x="306" y="329" width="1" height="5" fill="#26a69a" />
<rect x="305" y="330" width="3" height="3" fill="#26a69a" />
<rect x="311" y="325" width="1" height="6" fill="#26a69a" />
<rect x="310" y="326" width="3" height="5" fill="#26a69a" />
<rect x="316" y="315" width="1" height="8" fill="#26a69a" />
<rect x="315" y="316" width="3" height="7" fill="#26a69a" />
<rect x="321" y="310" width="1" height="7" fill="#26a69a" />
<rect x="320" y="312" width="3" height="5" fill="#26a69a" />
<rect x="326" y="312" width="1" height="6" fill="#ef5350" />
<rect x="325" y="312" width="3" height="3" fill="#ef5350" />
<rect x="331" y="307" width="1" height="8" fill="#26a69a" />
<rect x="330" y="309" width="3" height="6" fill="#26a69a" />
<rect x="337" y="302" width="1" height="8" fill="#26a69a" />
<rect x="336" y="303" width="3" height="7" fill="#26a69a" />
<rect x="342" y="298" width="1" height="8" fill="#ef5350" />
<rect x="341" y="303" width="3" height="3" fill="#ef5350" />
<rect x="347" y="300" width="1" height="6" fill="#26a69a" />
<rect x="346" y="302" width="3" height="4" fill="#26a69a" />
<rect x="352" y="301" width="1" height="5" fill="#ef5350" />
<rect x="351" y="302" width="3" height="2" fill="#ef5350" />
<rect x="357" y="300" width="1" height="4" fill="#26a69a" />
<rect x="356" y="302" width="3" height="2" fill="#26a69a" />
<rect x="362" y="297" width="1" height="7" fill="#26a69a" />
<rect x="361" y="298" width="3" height="5" fill="#26a69a" />
<rect x="368" y="295" width="1" height="4" fill="#26a69a" />
<rect x="367" y="295" width="3" height="3" fill="#26a69a" />
<rect x="373" y="294" width="1" height="8" fill="#ef5350" />
<rect x="372" y="295" width="3" height="6" fill="#ef5350" />
<rect x="378" y="298" width="1" height="6" fill="#ef5350" />
<rect x="377" y="300" width="3" height="3" fill="#ef5350" />
<rect x="383" y="297" width="1" height="6" fill="#26a69a" />
<rect x="382" y="297" width="3" height="6" fill="#26a69a" />
<rect x="388" y="289" width="1" height="9" fill="#26a69a" />
<rect x="387" y="290" width="3" height="8" fill="#26a69a" />
<rect x="394" y="284" width="1" height="7" fill="#26a69a" />
<rect x="393" y="287" width="3" height="4" fill="#26a69a" />
<rect x="399" y="285" width="1" height="8" fill="#ef5350" />
<rect x="398" y="286" width="3" height="6" fill="#ef5350" />
<rect x="404" y="288" width="1" height="4" fill="#26a69a" />
<rect x="403" y="289" width="3" height="3" fill="#26a69a" />
<rect x="409" y="285" width="1" height="6" fill="#26a69a" />
<rect x="408" y="288" width="3" height="2" fill="#26a69a" />
<rect x="414" y="279" width="1" height="10" fill="#26a69a" />
<rect x="413" y="279" width="3" height="10" fill="#26a69a" />
<rect x="419" y="274" width="1" height="10" fill="#26a69a" />
<rect x="418" y="276" width="3" height="4" fill="#26a69a" />
<rect x="425" y="271" width="1" height="5" fill="#26a69a" />
<rect x="424" y="275" width="3" height="1" fill="#26a69a" />
<rect x="430" y="271" width="1" height="10" fill="#ef5350" />
<rect x="429" y="275" width="3" height="2" fill="#ef5350" />
<rect x="435" y="272" width="1" height="6" fill="#26a69a" />
<rect x="434" y="272" width="3" height="5" fill="#26a69a" />
<rect x="440" y="262" width="1" height="10" fill="#26a69a" />
<rect x="439" y="263" width="3" height="9" fill="#26a69a" />
<rect x="445" y="259" width="1" height="7" fill="#26a69a" />
<rect x="444" y="260" width="3" height="4" fill="#26a69a" />
<rect x="450" y="251" width="1" height="10" fill="#26a69a" />
<rect x="449" y="253" width="3" height="8" fill="#26a69a" />
<rect x="456" y="251" width="1" height="14" fill="#ef5350" />
<rect x="455" y="253" width="3" height="9" fill="#ef5350" />
<rect x="461" y="256" width="1" height="9" fill="#26a69a" />
<rect x="460" y="256" width="3" height="7" fill="#26a69a" />
<rect x="466" y="244" width="1" height="14" fill="#26a69a" />
<rect x="465" y="245" width="3" height="13" fill="#26a69a" />
<rect x="471" y="236" width="1" height="10" fill="#26a69a" />
<rect x="470" y="241" width="3" height="5" fill="#26a69a" />
<rect x="476" y="232" width="1" height="10" fill="#26a69a" />
<rect x="475" y="233" width="3" height="9" fill="#26a69a" />
<rect x="481" y="218" width="1" height="16" fill="#26a69a" />
<rect x="480" y="218" width="3" height="16" fill="#26a69a" />
<rect x="487" y="212" width="1" height="24" fill="#ef5350" />
<rect x="486" y="218" width="3" height="11" fill="#ef5350" />
<rect x="492" y="212" width="1" height="19" fill="#26a69a" />
<rect x="491" y="215" width="3" height="14" fill="#26a69a" />
<rect x="497" y="212" width="1" height="36" fill="#ef5350" />
<rect x="496" y="215" width="3" height="29" fill="#ef5350" />
<rect x="502" y="239" width="1" height="19" fill="#ef5350" />
<rect x="501" y="243" width="3" height="4" fill="#ef5350" />
<rect x="507" y="239" width="1" height="11" fill="#26a69a" />
<rect x="506" y="243" width="3" height="5" fill="#26a69a" />
<rect x="512" y="241" width="1" height="12" fill="#ef5350" />
<rect x="511" y="243" width="3" height="3" fill="#ef5350" />
<rect x="518" y="245" width="1" height="17" fill="#ef5350" />
<rect x="517" y="247" width="3" height="15" fill="#ef5350" />
<rect x="523" y="256" width="1" height="16" fill="#ef5350" />
<rect x="522" y="260" width="3" height="5" fill="#ef5350" />
<rect x="528" y="255" width="1" height="14" fill="#ef5350" />
<rect x="527" y="264" width="3" height="4" fill="#ef5350" />
<rect x="533" y="255" width="1" height="14" fill="#26a69a" />
<rect x="532" y="255" width="3" height="13" fill="#26a69a" />
<rect x="538" y="253" width="1" height="9" fill="#ef5350" />
<rect x="537" y="255" width="3" height="4" fill="#ef5350" />
<rect x="543" y="255" width="1" height="8" fill="#ef5350" />
<rect x="542" y="258" width="3" height="1" fill="#ef5350" />
<rect x="549" y="258" width="1" height="10" fill="#ef5350" />
<rect x="548" y="258" width="3" height="10" fill="#ef5350" />
<rect x="554" y="260" width="1" height="8" fill="#26a69a" />
<rect x="553" y="261" width="3" height="7" fill="#26a69a" />
<rect x="559" y="256" width="1" height="7" fill="#ef5350" />
<rect x="558" y="261" width="3" height="1" fill="#ef5350" />
<rect x="564" y="255" width="1" height="7" fill="#26a69a" />
<rect x="563" y="258" width="3" height="4" fill="#26a69a" />
<rect x="569" y="244" width="1" height="15" fill="#26a69a" />
<rect x="568" y="244" width="3" height="15" fill="#26a69a" />
<rect x="574" y="240" width="1" height="6" fill="#26a69a" />
<rect x="573" y="243" width="3" height="2" fill="#26a69a" />
<rect x="580" y="232" width="1" height="14" fill="#26a69a" />
<rect x="579" y="234" width="3" height="10" fill="#26a69a" />
<rect x="585" y="228" width="1" height="13" fill="#ef5350" />
<rect x="584" y="234" width="3" height="4" fill="#ef5350" />
<rect x="590" y="232" width="1" height="22" fill="#ef5350" />
<rect x="589" y="238" width="3" height="11" fill="#ef5350" />
<rect x="595" y="245" width="1" height="13" fill="#ef5350" />
<rect x="594" y="248" width="3" height="6" fill="#ef5350" />
<rect x="600" y="248" width="1" height="11" fill="#26a69a" />
<rect x="599" y="250" width="3" height="4" fill="#26a69a" />
<rect x="605" y="242" width="1" height="10" fill="#26a69a" />
<rect x="604" y="249" width="3" height="2" fill="#26a69a" />
<rect x="611" y="245" width="1" height="9" fill="#ef5350" />
<rect x="610" y="249" width="3" height="1" fill="#ef5350" />
<rect x="616" y="247" width="1" height="9" fill="#ef5350" />
<rect x="615" y="249" width="3" height="1" fill="#ef5350" />
<rect x="621" y="241" width="1" height="12" fill="#26a69a" />
<rect x="620" y="242" width="3" height="9" fill="#26a69a" />
<rect x="626" y="239" width="1" height="6" fill="#ef5350" />
<rect x="625" y="242" width="3" height="1" fill="#ef5350" />
<rect x="631" y="237" width="1" height="6" fill="#26a69a" />
<rect x="630" y="238" width="3" height="5" fill="#26a69a" />
<rect x="636" y="231" width="1" height="9" fill="#26a69a" />
<rect x="635" y="232" width="3" height="8" fill="#26a69a" />
<rect x="642" y="226" width="1" height="7" fill="#26a69a" />
<rect x="641" y="230" width="3" height="1" fill="#26a69a" />
<rect x="647" y="229" width="1" height="9" fill="#ef5350" />
<rect x="646" y="230" width="3" height="4" fill="#ef5350" />
<rect x="652" y="229" width="1" height="5" fill="#ef5350" />
<rect x="651" y="233" width="3" height="1" fill="#ef5350" />
<rect x="657" y="231" width="1" height="6" fill="#26a69a" />
<rect x="656" y="233" width="3" height="1" fill="#26a69a" />
<rect x="662" y="227" width="1" height="8" fill="#ef5350" />
<rect x="661" y="233" width="3" height="2" fill="#ef5350" />
<rect x="668" y="231" width="1" height="6" fill="#ef5350" />
<rect x="667" y="233" width="3" height="1" fill="#ef5350" />
<rect x="673" y="231" width="1" height="7" fill="#26a69a" />
<rect x="672" y="233" width="3" height="3" fill="#26a69a" />
<rect x="678" y="229" width="1" height="7" fill="#26a69a" />
<rect x="677" y="230" width="3" height="4" fill="#26a69a" />
<rect x="683" y="223" width="1" height="10" fill="#26a69a" />
<rect x="682" y="224" width="3" height="7" fill="#26a69a" />
<rect x="688" y="215" width="1" height="12" fill="#26a69a" />
<rect x="687" y="222" width="3" height="3" fill="#26a69a" />
<rect x="693" y="215" width="1" height="8" fill="#26a69a" />
<rect x="692" y="221" width="3" height="1" fill="#26a69a" />
<rect x="699" y="217" width="1" height="8" fill="#ef5350" />
<rect x="698" y="220" width="3" height="2" fill="#ef5350" />
<rect x="704" y="216" width="1" height="6" fill="#26a69a" />
<rect x="703" y="217" width="3" height="5" fill="#26a69a" />
<rect x="709" y="212" width="1" height="8" fill="#ef5350" />
<rect x="708" y="217" width="3" height="1" fill="#ef5350" />
<rect x="714" y="215" width="1" height="5" fill="#26a69a" />
<rect x="713" y="217" width="3" height="1" fill="#26a69a" />
<rect x="719" y="203" width="1" height="15" fill="#26a69a" />
<rect x="718" y="204" width="3" height="14" fill="#26a69a" />
<rect x="724" y="197" width="1" height="9" fill="#26a69a" />
<rect x="723" y="199" width="3" height="6" fill="#26a69a" />
<rect x="730" y="194" width="1" height="9" fill="#ef5350" />
<rect x="729" y="199" width="3" height="1" fill="#ef5350" />
<rect x="735" y="191" width="1" height="10" fill="#26a69a" />
<rect x="734" y="193" width="3" height="8" fill="#26a69a" />
<rect x="740" y="191" width="1" height="30" fill="#ef5350" />
<rect x="739" y="193" width="3" height="26" fill="#ef5350" />
<rect x="745" y="209" width="1" height="10" fill="#26a69a" />
<rect x="744" y="217" width="3" height="1" fill="#26a69a" />
<rect x="750" y="213" width="1" height="12" fill="#ef5350" />
<rect x="749" y="217" width="3" height="3" fill="#ef5350" />
<rect x="755" y="209" width="1" height="11" fill="#26a69a" />
<rect x="754" y="218" width="3" height="2" fill="#26a69a" />
<rect x="761" y="202" width="1" height="17" fill="#26a69a" />
<rect x="760" y="204" width="3" height="15" fill="#26a69a" />
<rect x="766" y="197" width="1" height="9" fill="#26a69a" />
<rect x="765" y="198" width="3" height="6" fill="#26a69a" />
<rect x="771" y="197" width="1" height="9" fill="#ef5350" />
<rect x="770" y="198" width="3" height="5" fill="#ef5350" />
<rect x="776" y="200" width="1" height="8" fill="#26a69a" />
<rect x="775" y="200" width="3" height="3" fill="#26a69a" />
<rect x="781" y="195" width="1" height="8" fill="#26a69a" />
<rect x="780" y="196" width="3" height="5" fill="#26a69a" />
<rect x="786" y="181" width="1" height="16" fill="#26a69a" />
<rect x="785" y="185" width="3" height="12" fill="#26a69a" />
<rect x="792" y="181" width="1" height="7" fill="#ef5350" />
<rect x="791" y="185" width="3" height="3" fill="#ef5350" />
<rect x="797" y="180" width="1" height="8" fill="#26a69a" />
<rect x="796" y="181" width="3" height="7" fill="#26a69a" />
<rect x="802" y="181" width="1" height="6" fill="#ef5350" />
<rect x="801" y="181" width="3" height="3" fill="#ef5350" />
<rect x="807" y="182" width="1" height="11" fill="#ef5350" />
<rect x="806" y="183" width="3" height="3" fill="#ef5350" />
<rect x="812" y="164" width="1" height="13" fill="#26a69a" />
<rect x="811" y="165" width="3" height="12" fill="#26a69a" />
<rect x="817" y="149" width="1" height="17" fill="#26a69a" />
<rect x="816" y="156" width="3" height="10" fill="#26a69a" />
<rect x="823" y="143" width="1" height="21" fill="#26a69a" />
<rect x="822" y="143" width="3" height="14" fill="#26a69a" />
<rect x="828" y="137" width="1" height="11" fill="#26a69a" />
<rect x="827" y="137" width="3" height="8" fill="#26a69a" />
<rect x="833" y="122" width="1" height="16" fill="#26a69a" />
<rect x="832" y="135" width="3" height="3" fill="#26a69a" />
<rect x="838" y="112" width="1" height="23" fill="#26a69a" />
<rect x="837" y="114" width="3" height="21" fill="#26a69a" />
<rect x="843" y="85" width="1" height="31" fill="#26a69a" />
<rect x="842" y="85" width="3" height="31" fill="#26a69a" />
<rect x="848" y="62" width="1" height="62" fill="#ef5350" />
<rect x="847" y="84" width="3" height="6" fill="#ef5350" />
<rect x="854" y="80" width="1" height="95" fill="#ef5350" />
<rect x="853" y="89" width="3" height="61" fill="#ef5350" />
<rect x="859" y="149" width="1" height="60" fill="#ef5350" />
<rect x="858" y="149" width="3" height="30" fill="#ef5350" />
<rect x="864" y="136" width="1" height="41" fill="#26a69a" />
<rect x="863" y="142" width="3" height="35" fill="#26a69a" />
<rect x="869" y="124" width="1" height="30" fill="#26a69a" />
<rect x="868" y="140" width="3" height="3" fill="#26a69a" />
<rect x="874" y="133" width="1" height="32" fill="#ef5350" />
<rect x="873" y="140" width="3" height="24" fill="#ef5350" />
<rect x="879" y="139" width="1" height="39" fill="#26a69a" />
<rect x="878" y="140" width="3" height="23" fill="#26a69a" />
<rect x="885" y="125" width="1" height="15" fill="#26a69a" />
<rect x="884" y="129" width="3" height="10" fill="#26a69a" />
<rect x="890" y="126" width="1" height="11" fill="#ef5350" />
<rect x="889" y="129" width="3" height="5" fill="#ef5350" />
<rect x="895" y="121" width="1" height="13" fill="#26a69a" />
<rect x="894" y="125" width="3" height="9" fill="#26a69a" />
<rect x="900" y="123" width="1" height="28" fill="#ef5350" />
<rect x="899" y="124" width="3" height="22" fill="#ef5350" />
<rect x="905" y="130" width="1" height="20" fill="#26a69a" />
<rect x="904" y="131" width="3" height="15" fill="#26a69a" />
<rect x="911" y="136" width="1" height="19" fill="#ef5350" />
<rect x="910" y="136" width="3" height="16" fill="#ef5350" />
<rect x="916" y="134" width="1" height="20" fill="#26a69a" />
<rect x="915" y="139" width="3" height="13" fill="#26a69a" />
<rect x="921" y="133" width="1" height="8" fill="#26a69a" />
<rect x="920" y="136" width="3" height="4" fill="#26a69a" />
<rect x="926" y="122" width="1" height="16" fill="#26a69a" />
<rect x="925" y="122" width="3" height="15" fill="#26a69a" />
<rect x="931" y="107" width="1" height="17" fill="#26a69a" />
<rect x="930" y="108" width="3" height="15" fill="#26a69a" />
<rect x="936" y="105" width="1" height="19" fill="#ef5350" />
<rect x="935" y="108" width="3" height="11" fill="#ef5350" />
<rect x="942" y="109" width="1" height="12" fill="#26a69a" />
<rect x="941" y="115" width="3" height="4" fill="#26a69a" />
<rect x="947" y="111" width="1" height="9" fill="#26a69a" />
<rect x="946" y="114" width="3" height="3" fill="#26a69a" />
<rect x="952" y="102" width="1" height="14" fill="#26a69a" />
<rect x="951" y="102" width="3" height="13" fill="#26a69a" />
<rect x="957" y="84" width="1" height="20" fill="#26a69a" />
<rect x="956" y="96" width="3" height="6" fill="#26a69a" />
<rect x="962" y="89" width="1" height="47" fill="#ef5350" />
<rect x="961" y="96" width="3" height="29" fill="#ef5350" />
<rect x="967" y="110" width="1" height="15" fill="#26a69a" />
<rect x="966" y="118" width="3" height="6" fill="#26a69a" />
<rect x="973" y="112" width="1" height="17" fill="#ef5350" />
<rect x="972" y="119" width="3" height="7" fill="#ef5350" />
<rect x="978" y="114" width="1" height="14" fill="#26a69a" />
<rect x="977" y="115" width="3" height="11" fill="#26a69a" />
<path d="M797.4 75.8 L812.4 60 L827.4 75.8 M812.4 61 L812.4 90.8" fill="none" stroke="#388e3c" stroke-width="6.2" stroke-linecap="round" stroke-linejoin="round"/>
<circle cx="978.5" cy="342.3" r="9.65" fill="#fff" stroke="#9c27b0" stroke-width="1.5"/>
<path d="M981.7 336.9 L974.4 342.5 L978.3 342.85 L975.1 347.7 L982.6 342.3 L979.2 341.75 Z" fill="#9c27b0" stroke="#9c27b0" stroke-width="0.5" stroke-linejoin="round"/>
<g><circle cx="998.5" cy="367.05" r="9.95" fill="#fff" stroke="#f23645" stroke-width="1.5"/>
<clipPath id="fc0"><circle cx="998.5" cy="367.05" r="7.9"/></clipPath><g clip-path="url(#fc0)">
<rect x="989.5" y="358.05" width="18" height="18" fill="#fff" />
<rect x="989.5" y="358.8" width="18" height="2.8" fill="#ef5350" />
<rect x="989.5" y="365.1" width="18" height="3.7" fill="#ef5350" />
<rect x="989.5" y="371.2" width="18" height="4" fill="#ef5350" />
<rect x="989.5" y="358.8" width="11.5" height="10" fill="#1e88e5" />
<rect x="992.45" y="360.65" width="1.1" height="1.1" fill="#fff" />
<rect x="992.45" y="363.05" width="1.1" height="1.1" fill="#fff" />
<rect x="992.45" y="366.05" width="1.1" height="1.1" fill="#fff" />
<rect x="995.15" y="360.65" width="1.1" height="1.1" fill="#fff" />
<rect x="995.15" y="363.05" width="1.1" height="1.1" fill="#fff" />
<rect x="995.15" y="366.05" width="1.1" height="1.1" fill="#fff" />
<rect x="997.95" y="360.65" width="1.1" height="1.1" fill="#fff" />
<rect x="997.95" y="363.05" width="1.1" height="1.1" fill="#fff" />
<rect x="997.95" y="366.05" width="1.1" height="1.1" fill="#fff" />
</g></g>
<g><circle cx="992.7" cy="367.05" r="9.95" fill="#fff" stroke="#f23645" stroke-width="1.5"/>
<clipPath id="fc1"><circle cx="992.7" cy="367.05" r="7.9"/></clipPath><g clip-path="url(#fc1)">
<rect x="983.7" y="358.05" width="18" height="18" fill="#fff" />
<rect x="983.7" y="358.8" width="18" height="2.8" fill="#ef5350" />
<rect x="983.7" y="365.1" width="18" height="3.7" fill="#ef5350" />
<rect x="983.7" y="371.2" width="18" height="4" fill="#ef5350" />
<rect x="983.7" y="358.8" width="11.5" height="10" fill="#1e88e5" />
<rect x="986.65" y="360.65" width="1.1" height="1.1" fill="#fff" />
<rect x="986.65" y="363.05" width="1.1" height="1.1" fill="#fff" />
<rect x="986.65" y="366.05" width="1.1" height="1.1" fill="#fff" />
<rect x="989.35" y="360.65" width="1.1" height="1.1" fill="#fff" />
<rect x="989.35" y="363.05" width="1.1" height="1.1" fill="#fff" />
<rect x="989.35" y="366.05" width="1.1" height="1.1" fill="#fff" />
<rect x="992.15" y="360.65" width="1.1" height="1.1" fill="#fff" />
<rect x="992.15" y="363.05" width="1.1" height="1.1" fill="#fff" />
<rect x="992.15" y="366.05" width="1.1" height="1.1" fill="#fff" />
</g></g>
<g><circle cx="987.5" cy="367.05" r="9.95" fill="#fff" stroke="#f23645" stroke-width="1.5"/>
<clipPath id="fc2"><circle cx="987.5" cy="367.05" r="7.9"/></clipPath><g clip-path="url(#fc2)">
<rect x="978.5" y="358.05" width="18" height="18" fill="#fff" />
<rect x="978.5" y="358.8" width="18" height="2.8" fill="#ef5350" />
<rect x="978.5" y="365.1" width="18" height="3.7" fill="#ef5350" />
<rect x="978.5" y="371.2" width="18" height="4" fill="#ef5350" />
<rect x="978.5" y="358.8" width="11.5" height="10" fill="#1e88e5" />
<rect x="981.45" y="360.65" width="1.1" height="1.1" fill="#fff" />
<rect x="981.45" y="363.05" width="1.1" height="1.1" fill="#fff" />
<rect x="981.45" y="366.05" width="1.1" height="1.1" fill="#fff" />
<rect x="984.15" y="360.65" width="1.1" height="1.1" fill="#fff" />
<rect x="984.15" y="363.05" width="1.1" height="1.1" fill="#fff" />
<rect x="984.15" y="366.05" width="1.1" height="1.1" fill="#fff" />
<rect x="986.95" y="360.65" width="1.1" height="1.1" fill="#fff" />
<rect x="986.95" y="363.05" width="1.1" height="1.1" fill="#fff" />
<rect x="986.95" y="366.05" width="1.1" height="1.1" fill="#fff" />
</g></g>
<g><circle cx="977.5" cy="367.05" r="9.95" fill="#fff" stroke="#f23645" stroke-width="1.5"/>
<clipPath id="fc3"><circle cx="977.5" cy="367.05" r="7.9"/></clipPath><g clip-path="url(#fc3)">
<rect x="968.5" y="358.05" width="18" height="18" fill="#fff" />
<rect x="968.5" y="358.8" width="18" height="2.8" fill="#ef5350" />
<rect x="968.5" y="365.1" width="18" height="3.7" fill="#ef5350" />
<rect x="968.5" y="371.2" width="18" height="4" fill="#ef5350" />
<rect x="968.5" y="358.8" width="11.5" height="10" fill="#1e88e5" />
<rect x="971.45" y="360.65" width="1.1" height="1.1" fill="#fff" />
<rect x="971.45" y="363.05" width="1.1" height="1.1" fill="#fff" />
<rect x="971.45" y="366.05" width="1.1" height="1.1" fill="#fff" />
<rect x="974.15" y="360.65" width="1.1" height="1.1" fill="#fff" />
<rect x="974.15" y="363.05" width="1.1" height="1.1" fill="#fff" />
<rect x="974.15" y="366.05" width="1.1" height="1.1" fill="#fff" />
<rect x="976.95" y="360.65" width="1.1" height="1.1" fill="#fff" />
<rect x="976.95" y="363.05" width="1.1" height="1.1" fill="#fff" />
<rect x="976.95" y="366.05" width="1.1" height="1.1" fill="#fff" />
</g></g>
<line x1="10" y1="380.4" x2="1100" y2="380.4" stroke="#e0e3eb" stroke-width="1" />
<line x1="10" y1="537.5" x2="1100" y2="537.5" stroke="#e0e3eb" stroke-width="1" />
<text x="1041" y="46.9" font-size="12" fill="#131722" stroke="#131722" stroke-width="0.22" textLength="50.25" lengthAdjust="spacingAndGlyphs" >5,750.000</text>
<text x="1041" y="77.55" font-size="12" fill="#131722" stroke="#131722" stroke-width="0.22" textLength="50.25" lengthAdjust="spacingAndGlyphs" >5,500.000</text>
<text x="1041" y="108.2" font-size="12" fill="#131722" stroke="#131722" stroke-width="0.22" textLength="50.25" lengthAdjust="spacingAndGlyphs" >5,250.000</text>
<text x="1041" y="138.85" font-size="12" fill="#131722" stroke="#131722" stroke-width="0.22" textLength="50.25" lengthAdjust="spacingAndGlyphs" >5,000.000</text>
<text x="1041.42" y="169.5" font-size="12" fill="#131722" stroke="#131722" stroke-width="0.22" textLength="49.83" lengthAdjust="spacingAndGlyphs" >4,750.000</text>
<text x="1041.42" y="200.15" font-size="12" fill="#131722" stroke="#131722" stroke-width="0.22" textLength="49.83" lengthAdjust="spacingAndGlyphs" >4,500.000</text>
<text x="1041.42" y="230.8" font-size="12" fill="#131722" stroke="#131722" stroke-width="0.22" textLength="49.83" lengthAdjust="spacingAndGlyphs" >4,250.000</text>
<text x="1041.42" y="261.45" font-size="12" fill="#131722" stroke="#131722" stroke-width="0.22" textLength="49.83" lengthAdjust="spacingAndGlyphs" >4,000.000</text>
<text x="1041.05" y="292.1" font-size="12" fill="#131722" stroke="#131722" stroke-width="0.22" textLength="50.2" lengthAdjust="spacingAndGlyphs" >3,750.000</text>
<text x="1041.05" y="322.75" font-size="12" fill="#131722" stroke="#131722" stroke-width="0.22" textLength="50.2" lengthAdjust="spacingAndGlyphs" >3,500.000</text>
<text x="1041.05" y="353.4" font-size="12" fill="#131722" stroke="#131722" stroke-width="0.22" textLength="50.2" lengthAdjust="spacingAndGlyphs" >3,250.000</text>
<text x="1041.02" y="419" font-size="12" fill="#131722" stroke="#131722" stroke-width="0.22" textLength="40.33" lengthAdjust="spacingAndGlyphs" >200.000</text>
<text x="1040.66" y="463" font-size="12" fill="#131722" stroke="#131722" stroke-width="0.22" textLength="40.69" lengthAdjust="spacingAndGlyphs" >100.000</text>
<text x="1041.11" y="507.2" font-size="12" fill="#131722" stroke="#131722" stroke-width="0.22" textLength="29.08" lengthAdjust="spacingAndGlyphs" >0.000</text>
<text x="1040.45" y="578" font-size="12" fill="#131722" stroke="#131722" stroke-width="0.22" textLength="28.84" lengthAdjust="spacingAndGlyphs" >80.00</text>
<text x="1040.38" y="620.5" font-size="12" fill="#131722" stroke="#131722" stroke-width="0.22" textLength="28.91" lengthAdjust="spacingAndGlyphs" >60.00</text>
<text x="1040.72" y="662.8" font-size="12" fill="#131722" stroke="#131722" stroke-width="0.22" textLength="28.57" lengthAdjust="spacingAndGlyphs" >40.00</text>
<path d="M996 107 H1032 V124 H996 Q994 124 994 122 V109 Q994 107 996 107 Z" fill="#26a69a"/>
<text x="997.41" y="119.2" font-size="12" fill="#fff" stroke="#fff" stroke-width="0.22" textLength="31.25" lengthAdjust="spacingAndGlyphs" >GOLD</text>
<path d="M1033 107 H1094 Q1096 107 1096 109 V122 Q1096 124 1094 124 H1033 Z" fill="#26a69a"/>
<text x="1041" y="118.6" font-size="12" fill="#fff" stroke="#fff" stroke-width="0.22" textLength="50.31" lengthAdjust="spacingAndGlyphs" >5,171.798</text>
<path d="M1033 263 H1094 Q1096 263 1096 265 V278 Q1096 280 1094 280 H1033 Z" fill="#2962ff"/>
<text x="1041.05" y="274.6" font-size="12" fill="#fff" stroke="#fff" stroke-width="0.22" textLength="50.3" lengthAdjust="spacingAndGlyphs" >3,897.712</text>
<path d="M1033 287 H1094 Q1096 287 1096 289 V302.3 Q1096 304.3 1094 304.3 H1033 Z" fill="#2962ff"/>
<text x="1041.05" y="299.6" font-size="12" fill="#fff" stroke="#fff" stroke-width="0.22" textLength="50.3" lengthAdjust="spacingAndGlyphs" >3,704.312</text>
<path d="M1033 304 H1094 Q1096 304 1096 306 V319 Q1096 321 1094 321 H1033 Z" fill="#2962ff"/>
<text x="1041.05" y="315.6" font-size="12" fill="#fff" stroke="#fff" stroke-width="0.22" textLength="50.28" lengthAdjust="spacingAndGlyphs" >3,601.421</text>
<path d="M1033 352 H1094 Q1096 352 1096 354 V367.3 Q1096 369.3 1094 369.3 H1033 Z" fill="#2962ff"/>
<text x="1041.05" y="364.6" font-size="12" fill="#fff" stroke="#fff" stroke-width="0.22" textLength="50.29" lengthAdjust="spacingAndGlyphs" >3,169.383</text>
<clipPath id="cp1"><rect x="1030" y="360" width="70" height="20.4"/></clipPath><g clip-path="url(#cp1)">
<path d="M1033 369 H1094 Q1096 369 1096 371 V384 Q1096 386 1094 386 H1033 Z" fill="#2962ff"/>
<text x="1041.05" y="380.6" font-size="12" fill="#fff" stroke="#fff" stroke-width="0.22" textLength="50.2" lengthAdjust="spacingAndGlyphs" >3,057.510</text>
</g>
<path d="M1033 440 H1083.8 Q1085.8 440 1085.8 442 V455.3 Q1085.8 457.3 1083.8 457.3 H1033 Z" fill="#ff6d00"/>
<text x="1040.66" y="452.6" font-size="12" fill="#fff" stroke="#fff" stroke-width="0.22" textLength="39.98" lengthAdjust="spacingAndGlyphs" >101.911</text>
<path d="M1033 457 H1078 Q1080 457 1080 459 V472 Q1080 474 1078 474 H1033 Z" fill="#2962ff"/>
<text x="1040.45" y="468.6" font-size="12" fill="#fff" stroke="#fff" stroke-width="0.22" textLength="35.02" lengthAdjust="spacingAndGlyphs" >87.417</text>
<path d="M1033 502 H1083.8 Q1085.8 502 1085.8 504 V517 Q1085.8 519 1083.8 519 H1033 Z" fill="#ffcdd2"/>
<text x="1040.78" y="513.6" font-size="12" fill="#131722" stroke="#131722" stroke-width="0.22" textLength="40.8" lengthAdjust="spacingAndGlyphs" >−14.495</text>
<path d="M1033 601 H1071.8 Q1073.8 601 1073.8 603 V616.3 Q1073.8 618.3 1071.8 618.3 H1033 Z" fill="#fdd835"/>
<text x="1040.8" y="613.6" font-size="12" fill="#131722" stroke="#131722" stroke-width="0.22" textLength="28.25" lengthAdjust="spacingAndGlyphs" >56.41</text>
<path d="M1033 618 H1071.8 Q1073.8 618 1073.8 620 V633 Q1073.8 635 1071.8 635 H1033 Z" fill="#7e57c2"/>
<text x="1040.8" y="629.6" font-size="12" fill="#fff" stroke="#fff" stroke-width="0.22" textLength="28.23" lengthAdjust="spacingAndGlyphs" >55.28</text>
<text x="18.03" y="46.3" font-size="12" fill="#131722" stroke="#131722" stroke-width="0.22" textLength="30" lengthAdjust="spacingAndGlyphs" >GOLD</text>
<rect x="53" y="40.8" width="2.3" height="2.3" fill="#131722" />
<text x="60.08" y="46.3" font-size="12" fill="#131722" stroke="#131722" stroke-width="0.22" textLength="12.58" lengthAdjust="spacingAndGlyphs" >1D</text>
<rect x="78" y="40.8" width="2.3" height="2.3" fill="#131722" />
<text x="85.25" y="46.3" font-size="12" fill="#131722" stroke="#131722" stroke-width="0.22" textLength="20.99" lengthAdjust="spacingAndGlyphs" >TVC</text>
<text x="114.22" y="46.3" font-size="12" fill="#131722" stroke="#131722" stroke-width="0.22" textLength="7.48" lengthAdjust="spacingAndGlyphs" >O</text>
<text x="122.9" y="46.3" font-size="12" fill="#26a69a" stroke="#26a69a" stroke-width="0.22" textLength="50.35" lengthAdjust="spacingAndGlyphs" >5,086.760</text>
<text x="180.83" y="46.3" font-size="12" fill="#131722" stroke="#131722" stroke-width="0.22" textLength="7.54" lengthAdjust="spacingAndGlyphs" >H</text>
<text x="188" y="46.3" font-size="12" fill="#26a69a" stroke="#26a69a" stroke-width="0.22" textLength="50.23" lengthAdjust="spacingAndGlyphs" >5,174.651</text>
<text x="246.61" y="46.3" font-size="12" fill="#131722" stroke="#131722" stroke-width="0.22" textLength="5.95" lengthAdjust="spacingAndGlyphs" >L</text>
<text x="252.9" y="46.3" font-size="12" fill="#26a69a" stroke="#26a69a" stroke-width="0.22" textLength="50.35" lengthAdjust="spacingAndGlyphs" >5,062.700</text>
<text x="310.86" y="46.3" font-size="12" fill="#131722" stroke="#131722" stroke-width="0.22" textLength="7.24" lengthAdjust="spacingAndGlyphs" >C</text>
<text x="318.2" y="46.3" font-size="12" fill="#26a69a" stroke="#26a69a" stroke-width="0.22" textLength="50.42" lengthAdjust="spacingAndGlyphs" >5,171.798</text>
<text x="376.46" y="46.3" font-size="12" fill="#26a69a" stroke="#26a69a" stroke-width="0.22" textLength="86.32" lengthAdjust="spacingAndGlyphs" >+87.168 (+1.71%)</text>
<text x="471.65" y="46.3" font-size="12" fill="#131722" stroke="#131722" stroke-width="0.22" textLength="16.28" lengthAdjust="spacingAndGlyphs" >Vol</text>
<text x="487.41" y="46.3" font-size="12" fill="#26a69a" stroke="#26a69a" stroke-width="0.22" textLength="5.25" lengthAdjust="spacingAndGlyphs" >1</text>
<text x="17.4" y="399.8" font-size="12" fill="#131722" stroke="#131722" stroke-width="0.22" textLength="31.8" lengthAdjust="spacingAndGlyphs" >MACD</text>
<text x="53.34" y="399.8" font-size="12" fill="#131722" stroke="#131722" stroke-width="0.22" textLength="20.03" lengthAdjust="spacingAndGlyphs" >(12,</text>
<text x="76.47" y="399.8" font-size="12" fill="#131722" stroke="#131722" stroke-width="0.22" textLength="16.74" lengthAdjust="spacingAndGlyphs" >26,</text>
<text x="95.9" y="399.8" font-size="12" fill="#131722" stroke="#131722" stroke-width="0.22" textLength="34.57" lengthAdjust="spacingAndGlyphs" >close)</text>
<text x="137.79" y="399.8" font-size="12" fill="#ffcdd2" stroke="#ffcdd2" stroke-width="0.22" textLength="40.18" lengthAdjust="spacingAndGlyphs" >−14.495</text>
<text x="185.86" y="399.8" font-size="12" fill="#2962ff" stroke="#2962ff" stroke-width="0.22" textLength="34.5" lengthAdjust="spacingAndGlyphs" >87.417</text>
<text x="227.76" y="399.8" font-size="12" fill="#ff6d00" stroke="#ff6d00" stroke-width="0.22" textLength="39.77" lengthAdjust="spacingAndGlyphs" >101.911</text>
<text x="17.98" y="556.7" font-size="12" fill="#131722" stroke="#131722" stroke-width="0.22" textLength="16.48" lengthAdjust="spacingAndGlyphs" >RSI</text>
<text x="38.23" y="556.7" font-size="12" fill="#131722" stroke="#131722" stroke-width="0.22" textLength="20.25" lengthAdjust="spacingAndGlyphs" >(14,</text>
<text x="61.21" y="556.7" font-size="12" fill="#131722" stroke="#131722" stroke-width="0.22" textLength="34.36" lengthAdjust="spacingAndGlyphs" >close)</text>
<text x="102.99" y="556.7" font-size="12" fill="#7e57c2" stroke="#7e57c2" stroke-width="0.22" textLength="28.86" lengthAdjust="spacingAndGlyphs" >55.28</text>
<text x="138.6" y="556.7" font-size="12" fill="#fdd835" stroke="#fdd835" stroke-width="0.22" textLength="28.35" lengthAdjust="spacingAndGlyphs" >56.41</text>
<text x="85.07" y="711" font-size="12" fill="#131722" stroke="#131722" stroke-width="0.22" textLength="17.7" lengthAdjust="spacingAndGlyphs" >Jul</text>
<text x="197.16" y="711" font-size="12" fill="#131722" stroke="#131722" stroke-width="0.22" textLength="21.29" lengthAdjust="spacingAndGlyphs" >Aug</text>
<text x="305.12" y="711" font-size="12" fill="#131722" stroke="#131722" stroke-width="0.22" textLength="21.16" lengthAdjust="spacingAndGlyphs" >Sep</text>
<text x="413.3" y="711" font-size="12" fill="#131722" stroke="#131722" stroke-width="0.22" textLength="21.82" lengthAdjust="spacingAndGlyphs" >Oct</text>
<text x="531.92" y="711" font-size="12" fill="#131722" stroke="#131722" stroke-width="0.22" textLength="23.11" lengthAdjust="spacingAndGlyphs" >Nov</text>
<text x="630.94" y="711" font-size="12" fill="#131722" stroke="#131722" stroke-width="0.22" textLength="20.58" lengthAdjust="spacingAndGlyphs" >Dec</text>
<text x="741.45" y="711" font-size="12" fill="#131722" textLength="27.8" lengthAdjust="spacingAndGlyphs" font-weight="bold" >2026</text>
<text x="847.54" y="711" font-size="12" fill="#131722" stroke="#131722" stroke-width="0.22" textLength="21.94" lengthAdjust="spacingAndGlyphs" >Feb</text>
<text x="944.81" y="711" font-size="12" fill="#131722" stroke="#131722" stroke-width="0.22" textLength="22.43" lengthAdjust="spacingAndGlyphs" >Mar</text>
<path d="M12.05 743.1 H23.95 V757.7 H18 V748.5 H12.05 Z" fill="#131313"/>
<circle cx="28.97" cy="746" r="2.95" fill="#131313"/>
<path d="M35.6 743.1 H41.8 L35.8 757.7 H29.2 Z" fill="#131313"/>
<text x="49.05" y="757.7" font-size="20" fill="#131313" textLength="120.64" lengthAdjust="spacingAndGlyphs" font-weight="bold" >TradingView</text>
</g></svg>
</body></html>
